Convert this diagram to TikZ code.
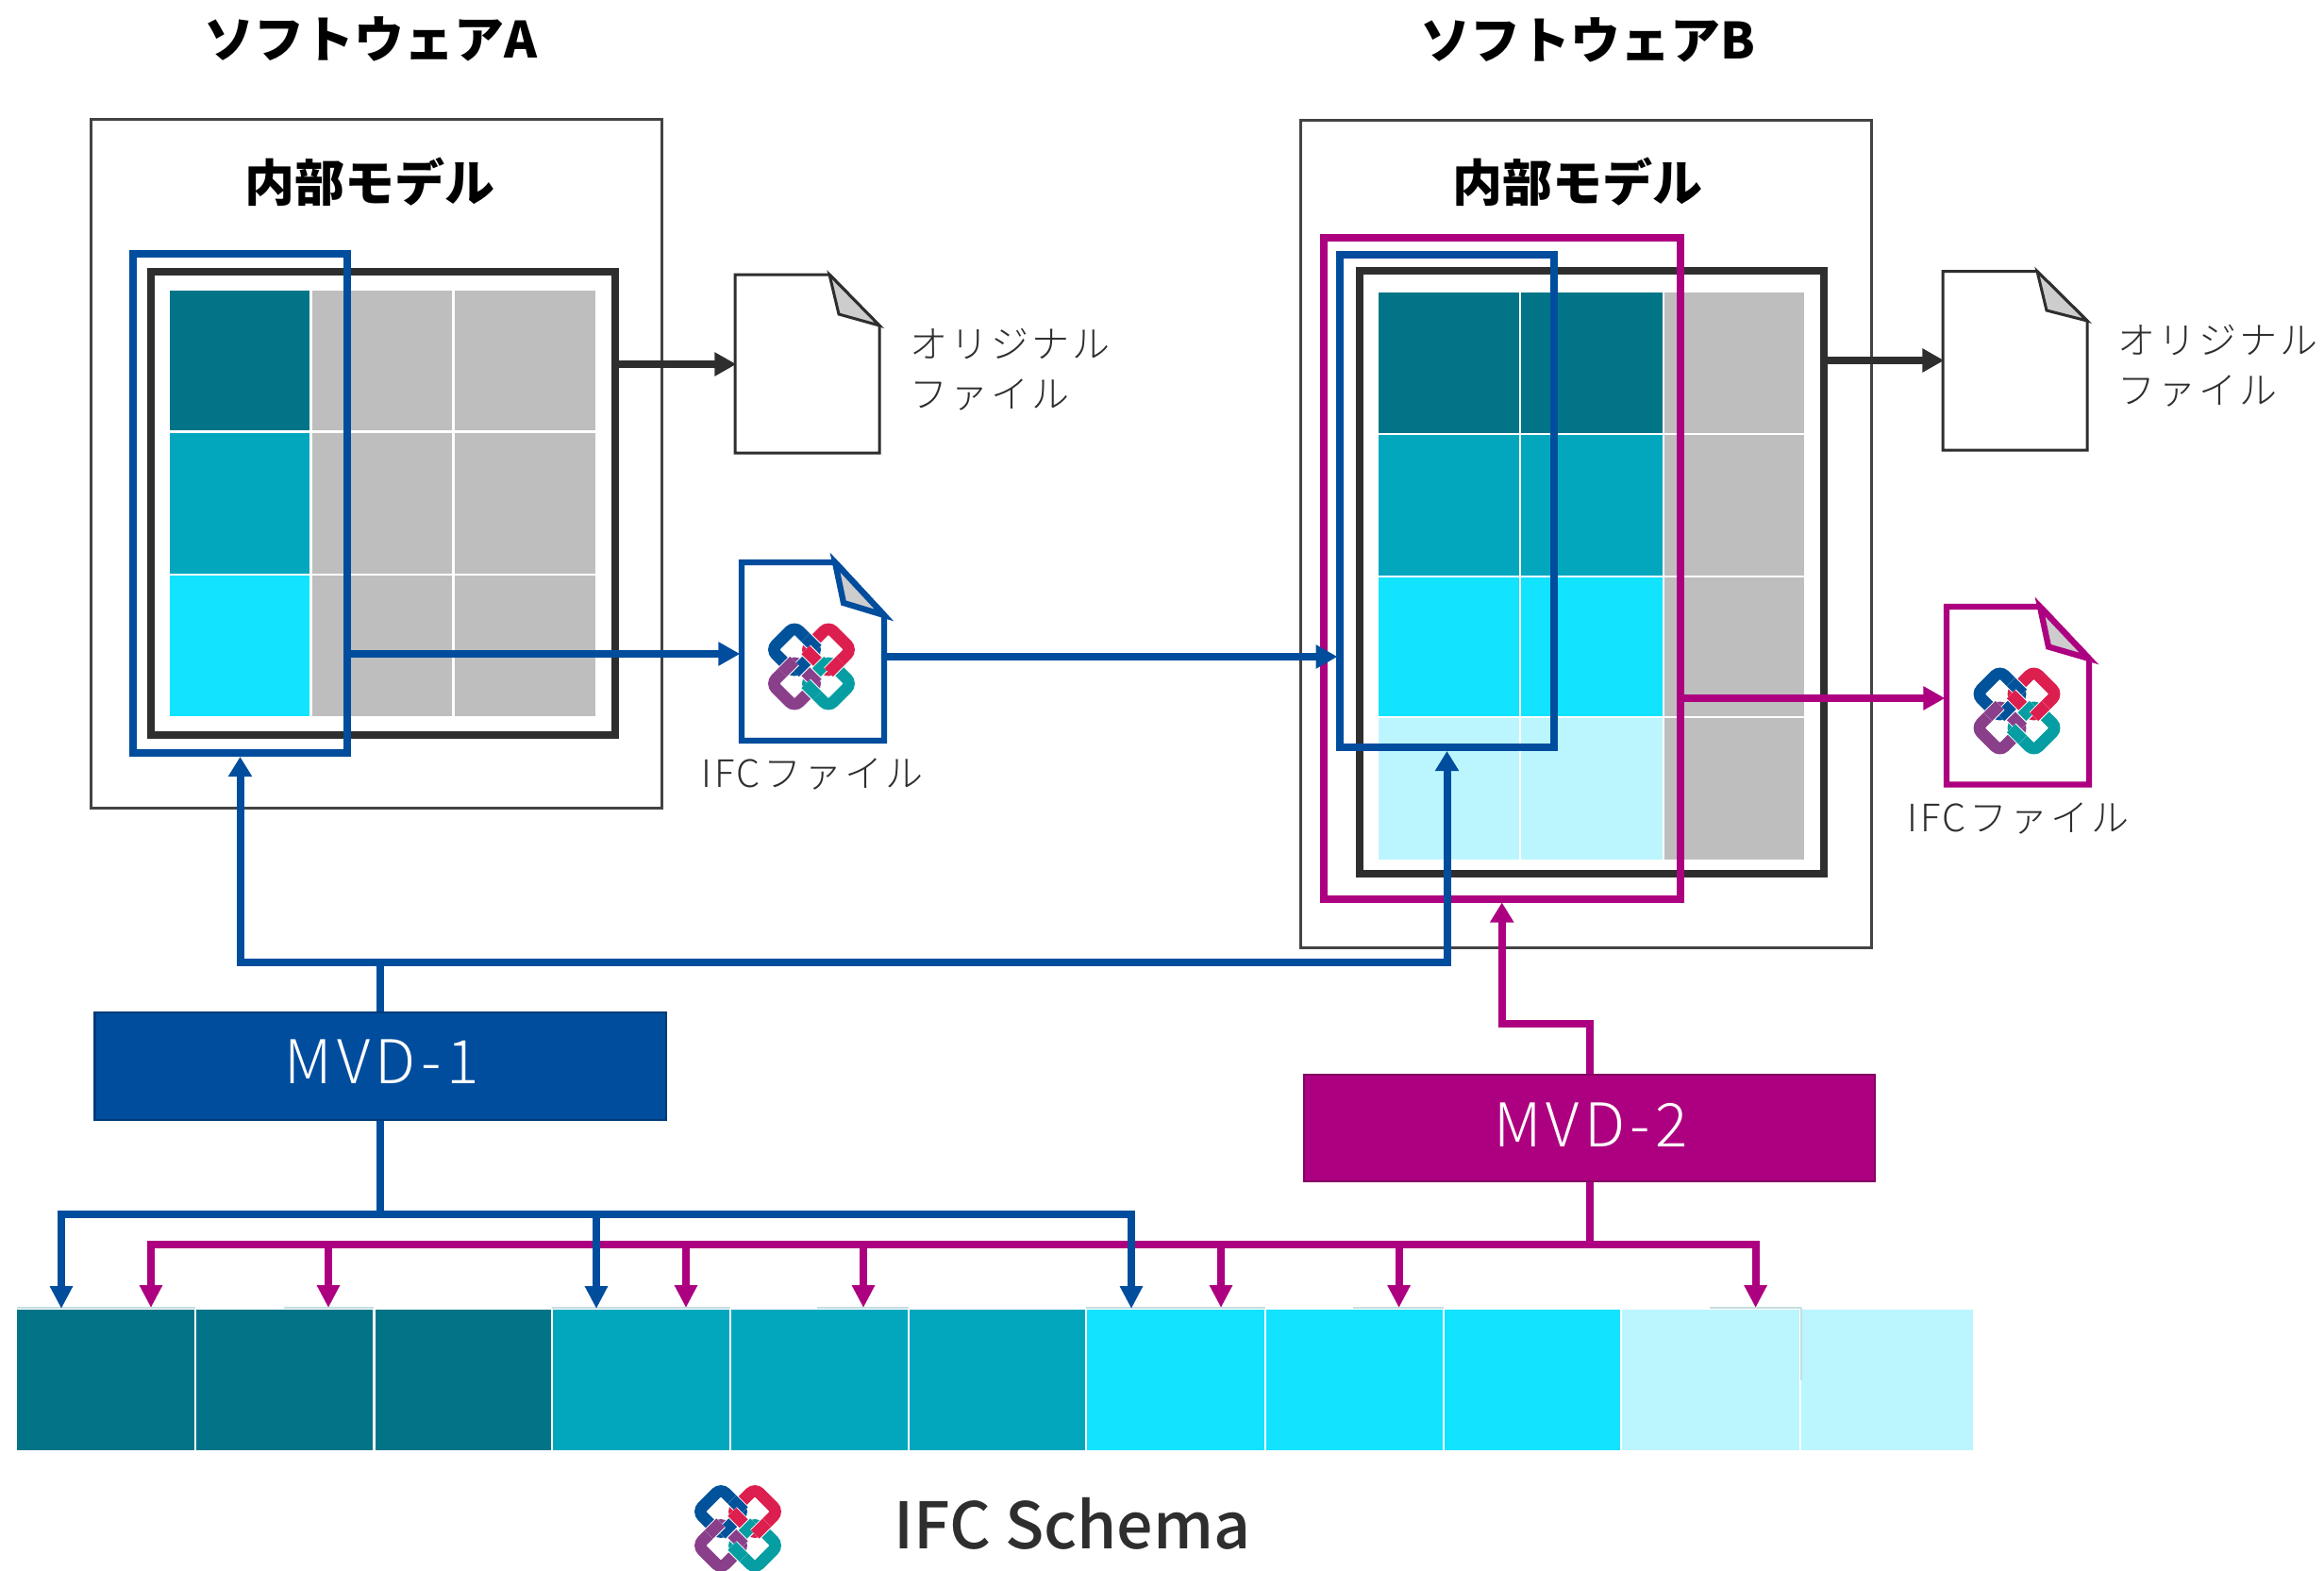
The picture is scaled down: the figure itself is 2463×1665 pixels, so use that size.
\documentclass[tikz,border=0pt]{standalone}
\usepackage{fontspec}
\setmainfont{Noto Sans CJK JP}
\newfontfamily\cjklight{Noto Sans CJK JP Light}[LetterSpace=7.5]
\newfontfamily\cjkmvd{Noto Sans CJK JP Light}[LetterSpace=8.5]
\newfontfamily\cjkmedium{Noto Sans CJK JP Medium}
\usetikzlibrary{arrows.meta,fit,calc}
\definecolor{cDark}{HTML}{017587}
\definecolor{cMid}{HTML}{02A7BE}
\definecolor{cCyan}{HTML}{12E3FF}
\definecolor{cPale}{HTML}{BBF6FF}
\definecolor{cGrey}{HTML}{BEBEBE}
\definecolor{cBlue}{HTML}{004D9E}
\definecolor{cBlueD}{HTML}{003A78}
\definecolor{cMag}{HTML}{AD0080}
\definecolor{cMagD}{HTML}{850063}
\definecolor{cInk}{HTML}{2E2E2E}
\definecolor{cFold}{HTML}{CDCDCD}
\definecolor{cFaint}{HTML}{C6DDE0}
\definecolor{lBlue}{HTML}{00529B}
\definecolor{lRed}{HTML}{DC1F4E}
\definecolor{lPurple}{HTML}{8A3F8B}
\definecolor{lTeal}{HTML}{069EA2}
\tikzset{
  fitbox/.style={inner sep=0pt,fit={#1}},
  panelbox/.style={draw=cInk!90,line width=3pt},
  modelbox/.style={draw=cInk,line width=8pt,miter limit=10},
  bluebox/.style={draw=cBlue,line width=8pt},
  magbox/.style={draw=cMag,line width=8pt},
  mvdblue/.style={draw=cBlueD,fill=cBlue,line width=2.5pt},
  mvdmag/.style={draw=cMagD,fill=cMag,line width=2.5pt},
  mvdtext/.style={font=\fontsize{64}{64}\cjkmvd,text=white,inner sep=0pt,anchor=base},
  titletext/.style={font=\fontsize{53}{53}\selectfont\bfseries,text=black,inner sep=0pt,anchor=base},
  smalltext/.style={font=\fontsize{40}{53}\cjklight,text=cInk,inner sep=0pt,anchor=base west,align=left},
  schematext/.style={font=\fontsize{68}{68}\cjkmedium,text=cInk,inner sep=0pt,anchor=base west},
  conn/.style={line width=8pt,shorten >=-1.5pt,-{Triangle[length=23pt,width=24pt]}},
  bigconn/.style={line width=8pt,-{Triangle[length=21pt,width=24pt]}},
  dropconn/.style={line width=8pt,-{Triangle[length=24pt,width=23pt]}},
  trunk/.style={line width=8pt,line join=round},
  docline/.style={draw=cInk,line width=3pt,miter limit=12},
}
\newcommand{\docshape}[9]{%
  \draw[#9,fill=white] (#1,#2) -- (#5,#2) -- (#3,#6) -- (#3,#4) -- (#1,#4) -- cycle;
  \draw[#9,fill=cFold] (#5,#2) -- (#7,#8) -- (#3,#6) -- cycle;
}
\newcommand{\cellrect}[5]{\fill[#5] (#1,#2) rectangle (#3,#4);}
\newcommand{\overstrand}[4]{%
  \draw[white,line width=14.5pt] ($(#1,#2)+(#3)$) -- ($(#1,#2)-(#3)$);
  \draw[#4,line width=12.5pt] ($(#1,#2)+(#3)$) -- ($(#1,#2)-(#3)$);
}
\newcommand{\ifcring}[3]{%
  \draw[#3,line width=12.5pt,rounded corners=7pt]
    (#1,#2-24.5) -- (#1+24.5,#2) -- (#1,#2+24.5) -- (#1-24.5,#2) -- cycle;
}
\newcommand{\ifclogo}[2]{%
  \begin{scope}[shift={(#1,#2)}]
    \ifcring{-18}{-18}{lBlue}
    \ifcring{18}{-18}{lRed}
    \ifcring{18}{18}{lTeal}
    \ifcring{-18}{18}{lPurple}
    \overstrand{0}{-24.5}{6.2,6.2}{lBlue}
    \overstrand{0}{-11.5}{6.2,6.2}{lRed}
    \overstrand{11.5}{0}{6.2,-6.2}{lTeal}
    \overstrand{24.5}{0}{6.2,-6.2}{lRed}
    \overstrand{0}{11.5}{6.2,6.2}{lPurple}
    \overstrand{0}{24.5}{6.2,6.2}{lTeal}
    \overstrand{-11.5}{0}{6.2,-6.2}{lBlue}
    \overstrand{-24.5}{0}{6.2,-6.2}{lPurple}
  \end{scope}
}
\begin{document}
\begin{tikzpicture}[x=1pt,y=-1pt]
\useasboundingbox (0,0) rectangle (2463,1665);
\clip (0,0) rectangle (2463,1665);
\fill[white] (0,0) rectangle (2463,1665);

% titles
\node[titletext] (titleA) at (393,61.5) {ソフトウェアA};
\node[titletext] (titleB) at (1683,62) {ソフトウェアB};

% software panels
\node[panelbox,fitbox={(96,126)(701,856)}] (panelA) {};
\node[panelbox,fitbox={(1378,127)(1983,1004)}] (panelB) {};
\node[titletext] (internalA) at (392,213) {内部モデル};
\node[titletext] (internalB) at (1672,213) {内部モデル};

% model A
\node[modelbox,fitbox={(160,288)(651.5,779)}] (modelA) {};
\foreach \xa/\xb in {330.6/479,482/631}
  \foreach \ya/\yb in {308/456,459/607.5,610/759}
    {\cellrect{\xa}{\ya}{\xb}{\yb}{cGrey}}
\cellrect{179.6}{308}{328}{456}{cDark}
\cellrect{179.6}{459}{328}{607.5}{cMid}
\cellrect{179.6}{610}{328}{759}{cCyan}

% model B
\node[modelbox,fitbox={(1441,287)(1933,926)}] (modelB) {};
\foreach \ya/\yb in {310/459,461/610,612/759.3,761.2/910.5}
  {\cellrect{1764}{\ya}{1912}{\yb}{cGrey}}
\foreach \xa/\xb in {1461/1610,1612/1761.5}{
  \cellrect{\xa}{310}{\xb}{459}{cDark}
  \cellrect{\xa}{461}{\xb}{610}{cMid}
  \cellrect{\xa}{612}{\xb}{759.3}{cCyan}
  \cellrect{\xa}{761.2}{\xb}{910.5}{cPale}
}

% file anchors
\node[inner sep=0pt,fit={(779,291)(932,480)}] (fileOA) {};
\node[inner sep=0pt,fit={(783,593)(940,788)}] (fileIA) {};
\node[inner sep=0pt,fit={(2059,287.5)(2212,477)}] (fileOB) {};
\node[inner sep=0pt,fit={(2060,640)(2217,834.5)}] (fileIB) {};

% view frames
\node[magbox,fitbox={(1403,252)(1780.5,952.5)}] (magB) {};
\node[bluebox,fitbox={(1420,270)(1647,792)}] (viewB) {};
\node[bluebox,fitbox={(141,269)(368,798)}] (viewA) {};

% documents
\docshape{779}{291}{932}{480}{879}{345}{889}{333}{docline}
\docshape{2059}{287.5}{2212}{477}{2159}{340}{2169}{329}{docline}
\docshape{786}{596}{937}{785}{885}{652}{894}{639}{draw=cBlue,line width=6.3pt,miter limit=12}
\docshape{2063}{643}{2214}{831.5}{2162}{698}{2171}{685.5}{draw=cMag,line width=6.3pt,miter limit=12}
\ifclogo{860}{706.5}
\ifclogo{2137.5}{753.5}

% file labels
\node[smalltext] (labOA) at (964,432) {オリジナル\\ファイル};
\node[smalltext] (labOB) at (2244,428.5) {オリジナル\\ファイル};
\node[smalltext] (labIA) at (743,834) {IFCファイル};
\node[smalltext] (labIB) at (2021,881) {IFCファイル};

% MVD boxes
\node[mvdblue,fitbox={(100.7,1073.2)(705.8,1186.8)}] (mvd1) {};
\node[mvdtext] (mvd1t) at (404.5,1148) {MVD-1};
\node[mvdmag,fitbox={(1382.2,1139.2)(1986.8,1251.8)}] (mvd2) {};
\node[mvdtext] (mvd2t) at (1686,1215) {MVD-2};

% schema strip
\cellrect{18}{1388}{206}{1537}{cDark}
\cellrect{208}{1388}{395.2}{1537}{cDark}
\cellrect{397.6}{1388}{584}{1537}{cDark}
\cellrect{586}{1388}{773}{1537}{cMid}
\cellrect{775}{1388}{962}{1537}{cMid}
\cellrect{964}{1388}{1150}{1537}{cMid}
\cellrect{1152}{1388}{1340}{1537}{cCyan}
\cellrect{1342}{1388}{1528.8}{1537}{cCyan}
\cellrect{1530.6}{1388}{1716.8}{1537}{cCyan}
\cellrect{1719}{1388}{1906.8}{1537}{cPale}
\cellrect{1909}{1388}{2091}{1537}{cPale}
\foreach \xa/\xb in {18/207,301/396,585/774,866/963,1151/1341,1434/1530,1812/1909}
  {\draw[cFaint,line width=1.8pt] (\xa,1386) -- (\xb,1386);}
\draw[cFaint,line width=1.2pt] (1909,1386) -- (1909,1463);

% IFC Schema caption
\ifclogo{782}{1620}
\node[schematext] (schema) at (947,1641) {IFC Schema};

% coordinates
\coordinate (yOA) at (0,386);
\coordinate (yIA) at (0,693);
\coordinate (yAB) at (0,696);
\coordinate (yOB) at (0,382);
\coordinate (yIB) at (0,740);
\coordinate (j1) at (403.25,1020);
\coordinate (j2) at (1591.75,1084.6);
\coordinate (b1) at (403.25,1287);
\coordinate (b2) at (1684.5,1319);

% file connectors
\draw[conn,cInk] (modelA.east |- yOA) -- (fileOA.west |- yOA);
\draw[conn,cInk] (modelB.east |- yOB) -- (fileOB.west |- yOB);
\draw[conn,cBlue] (viewA.east |- yIA) -- (fileIA.west |- yIA);
\draw[conn,cBlue] (fileIA.east |- yAB) -- (viewB.west |- yAB);
\draw[conn,cMag] (magB.east |- yIB) -- (fileIB.west |- yIB);

% MVD-2 up to model B
\draw[bigconn,cMag] (mvd2.north) |- (j2) -- (magB.south);
% MVD-2 to schema
\foreach \x in {160,348,727,915,1294,1482.6,1860.6}{
  \coordinate (tm) at (\x,1386);
  \draw[dropconn,cMag] (b2) -| (tm);
}
\draw[trunk,cMag] (mvd2.south) -- (b2);

% MVD-1 up to models
\draw[trunk,cBlue] (mvd1.north) -- (j1);
\draw[bigconn,cBlue] (j1) -| (viewA.south);
\draw[bigconn,cBlue] (j1) -| (viewB.south);
% MVD-1 to schema
\foreach \x in {65,632,1199}{
  \coordinate (tb) at (\x,1387);
  \draw[dropconn,cBlue] (b1) -| (tb);
}
\draw[trunk,cBlue] (mvd1.south) -- (b1);
\end{tikzpicture}
\end{document}
